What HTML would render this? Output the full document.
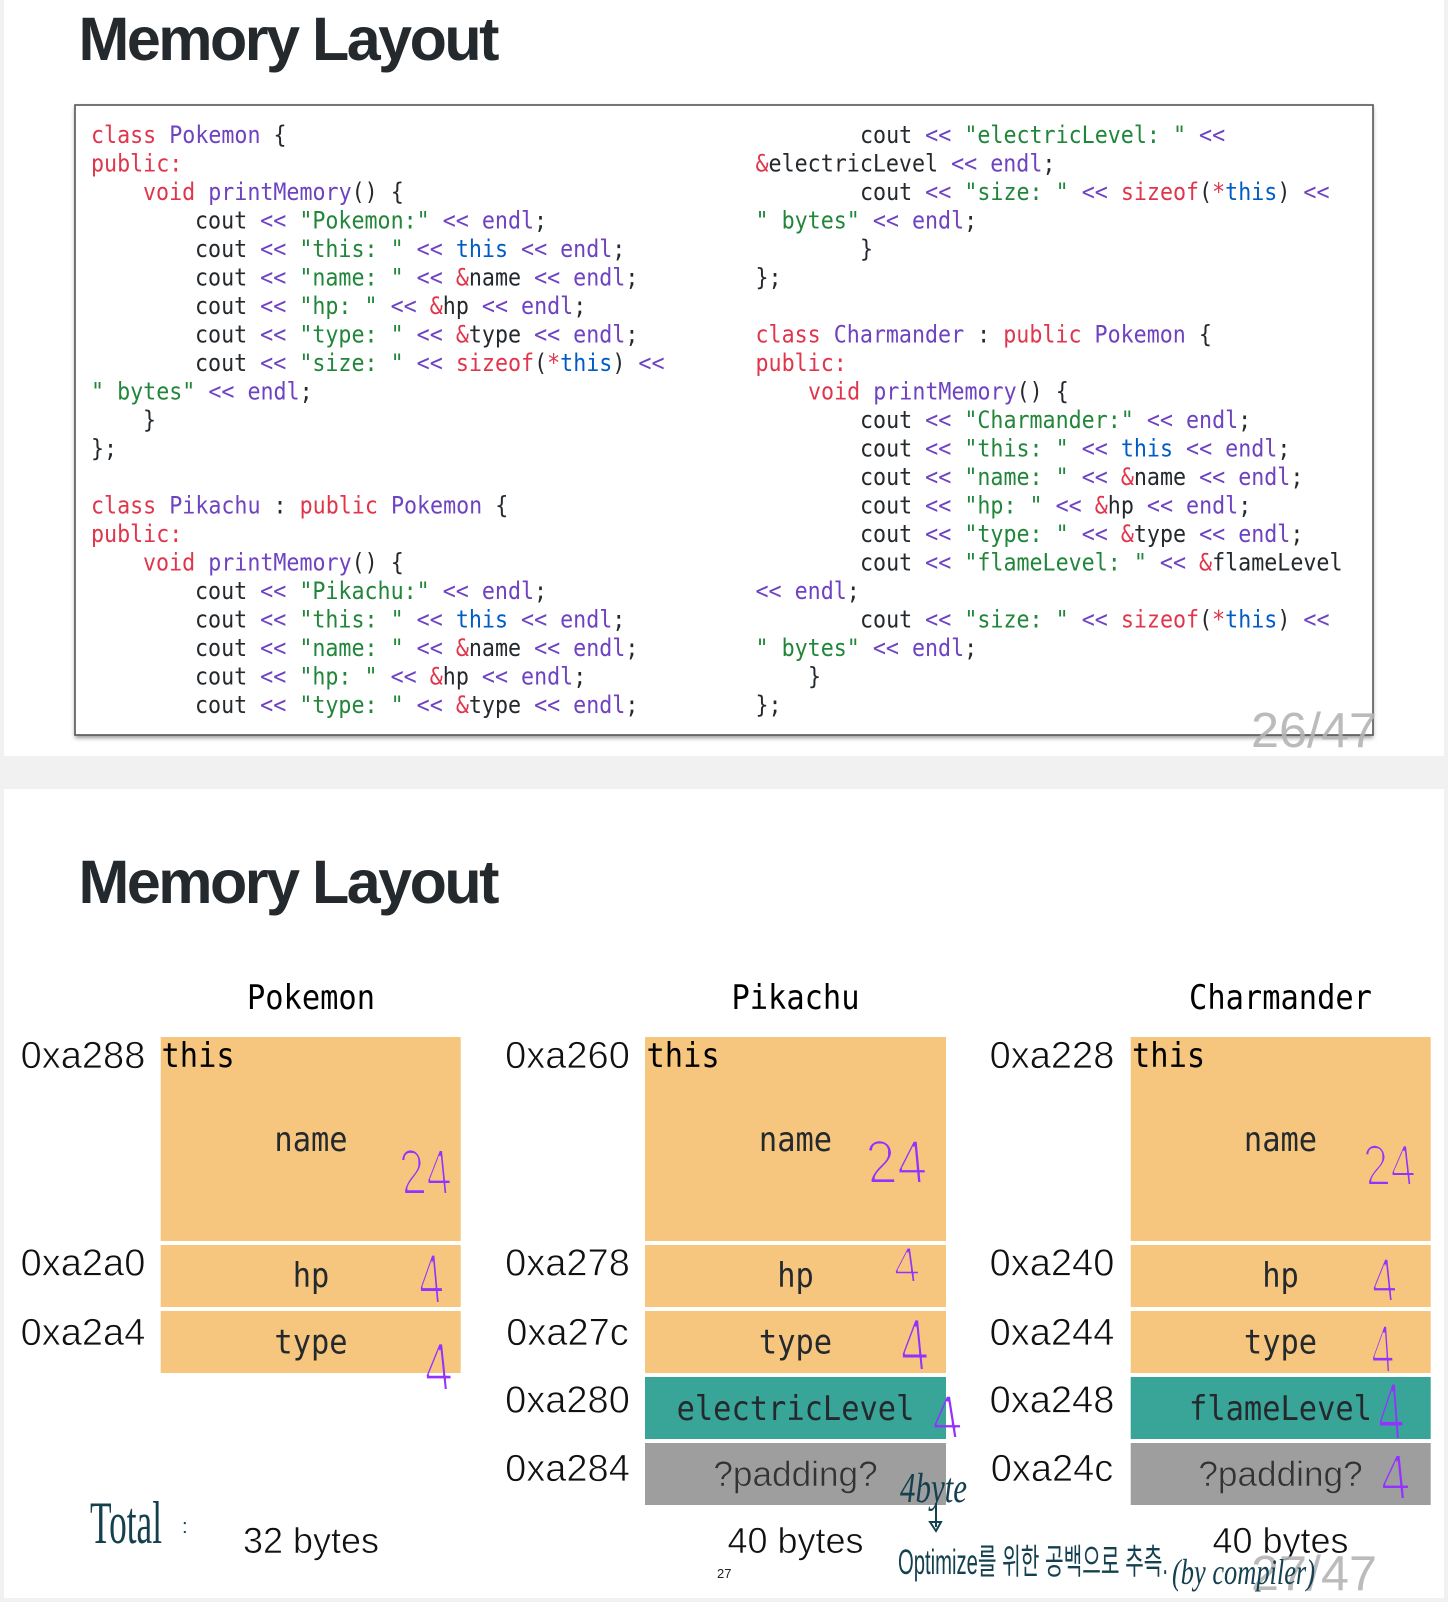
<!DOCTYPE html>
<html>
<head>
<meta charset="utf-8">
<style>
html,body{margin:0;padding:0;background:#f1f1f1}
svg{display:block}
.c text{font-family:"DejaVu Sans Mono","Liberation Mono",monospace;font-size:21.68px;white-space:pre;fill:#24292e;transform-box:fill-box;transform-origin:0 79.7%;transform:scaleY(1.1)}
.r,.c .r{fill:#e0364c}.v{fill:#6f42c1}.g{fill:#22863a}.b{fill:#005cc5}
.m{font-family:"DejaVu Sans Mono","Liberation Mono",monospace;font-size:30.4px;fill:#24292e;transform-box:fill-box;transform-origin:0 79.7%;transform:scaleY(1.1)}
.k{fill:#000}
.s{font-family:"Liberation Sans",Arial,sans-serif}
.a{font-size:38px;fill:#111;stroke:#fff;stroke-width:.7px;text-anchor:middle}
.y{font-size:36px;fill:#111;stroke:#fff;stroke-width:.6px;text-anchor:middle}
.q{font-size:35.2px;fill:#333;stroke:#9e9e9e;stroke-width:.6px;text-anchor:middle}
.t{font-size:61px;font-weight:700;fill:#24292e}
.n{font-size:49px;fill:#b4b4b4;fill-opacity:.9}
.h{font-family:"Liberation Sans",Arial,sans-serif;font-size:64px;fill:#9333ff}
.i{fill:#14404f}
</style>
</head>
<body>
<svg xmlns="http://www.w3.org/2000/svg" width="1448" height="1602" viewBox="0 0 1448 1602">
<defs>
<filter id="thin" filterUnits="userSpaceOnUse" x="0" y="0" width="1448" height="1602"><feMorphology operator="erode" radius="1"/></filter>
<filter id="sh" x="-2%" y="-2%" width="104%" height="104%"><feGaussianBlur stdDeviation="2"/></filter>
</defs>
<rect width="1448" height="1602" fill="#f1f1f1"/>
<rect x="4" y="0" width="1440" height="756" fill="#fff"/>
<rect x="4" y="789" width="1440" height="809" fill="#fff"/>

<text class="s t" x="78.5" y="60" textLength="421" lengthAdjust="spacing">Memory Layout</text>
<rect x="75" y="107" width="1298" height="631" fill="#999" filter="url(#sh)"/>
<rect x="75" y="105" width="1298" height="630" fill="#fff" stroke="#555" stroke-width="1.6"/>

<g class="c">
<text x="91" y="143"><tspan class="r">class</tspan> <tspan class="v">Pokemon</tspan> {</text>
<text x="91" y="171.5" class="r">public:</text>
<text x="143" y="200"><tspan class="r">void</tspan> <tspan class="v">printMemory</tspan>() {</text>
<text x="195" y="228.5">cout <tspan class="v">&lt;&lt;</tspan> <tspan class="g">"Pokemon:"</tspan> <tspan class="v">&lt;&lt; endl</tspan>;</text>
<text x="195" y="257">cout <tspan class="v">&lt;&lt;</tspan> <tspan class="g">"this: "</tspan> <tspan class="v">&lt;&lt;</tspan> <tspan class="b">this</tspan> <tspan class="v">&lt;&lt; endl</tspan>;</text>
<text x="195" y="285.5">cout <tspan class="v">&lt;&lt;</tspan> <tspan class="g">"name: "</tspan> <tspan class="v">&lt;&lt;</tspan> <tspan class="r">&amp;</tspan>name <tspan class="v">&lt;&lt; endl</tspan>;</text>
<text x="195" y="314">cout <tspan class="v">&lt;&lt;</tspan> <tspan class="g">"hp: "</tspan> <tspan class="v">&lt;&lt;</tspan> <tspan class="r">&amp;</tspan>hp <tspan class="v">&lt;&lt; endl</tspan>;</text>
<text x="195" y="342.5">cout <tspan class="v">&lt;&lt;</tspan> <tspan class="g">"type: "</tspan> <tspan class="v">&lt;&lt;</tspan> <tspan class="r">&amp;</tspan>type <tspan class="v">&lt;&lt; endl</tspan>;</text>
<text x="195" y="371">cout <tspan class="v">&lt;&lt;</tspan> <tspan class="g">"size: "</tspan> <tspan class="v">&lt;&lt;</tspan> <tspan class="r">sizeof</tspan>(<tspan class="r">*</tspan><tspan class="b">this</tspan>) <tspan class="v">&lt;&lt;</tspan></text>
<text x="91" y="399.5"><tspan class="g">" bytes"</tspan> <tspan class="v">&lt;&lt; endl</tspan>;</text>
<text x="143" y="428">}</text>
<text x="91" y="456.5">};</text>
<text x="91" y="513.5"><tspan class="r">class</tspan> <tspan class="v">Pikachu</tspan> : <tspan class="r">public</tspan> <tspan class="v">Pokemon</tspan> {</text>
<text x="91" y="542" class="r">public:</text>
<text x="143" y="570.5"><tspan class="r">void</tspan> <tspan class="v">printMemory</tspan>() {</text>
<text x="195" y="599">cout <tspan class="v">&lt;&lt;</tspan> <tspan class="g">"Pikachu:"</tspan> <tspan class="v">&lt;&lt; endl</tspan>;</text>
<text x="195" y="627.5">cout <tspan class="v">&lt;&lt;</tspan> <tspan class="g">"this: "</tspan> <tspan class="v">&lt;&lt;</tspan> <tspan class="b">this</tspan> <tspan class="v">&lt;&lt; endl</tspan>;</text>
<text x="195" y="656">cout <tspan class="v">&lt;&lt;</tspan> <tspan class="g">"name: "</tspan> <tspan class="v">&lt;&lt;</tspan> <tspan class="r">&amp;</tspan>name <tspan class="v">&lt;&lt; endl</tspan>;</text>
<text x="195" y="684.5">cout <tspan class="v">&lt;&lt;</tspan> <tspan class="g">"hp: "</tspan> <tspan class="v">&lt;&lt;</tspan> <tspan class="r">&amp;</tspan>hp <tspan class="v">&lt;&lt; endl</tspan>;</text>
<text x="195" y="713">cout <tspan class="v">&lt;&lt;</tspan> <tspan class="g">"type: "</tspan> <tspan class="v">&lt;&lt;</tspan> <tspan class="r">&amp;</tspan>type <tspan class="v">&lt;&lt; endl</tspan>;</text>

<text x="860" y="143">cout <tspan class="v">&lt;&lt;</tspan> <tspan class="g">"electricLevel: "</tspan> <tspan class="v">&lt;&lt;</tspan></text>
<text x="755.5" y="171.5"><tspan class="r">&amp;</tspan>electricLevel <tspan class="v">&lt;&lt; endl</tspan>;</text>
<text x="860" y="200">cout <tspan class="v">&lt;&lt;</tspan> <tspan class="g">"size: "</tspan> <tspan class="v">&lt;&lt;</tspan> <tspan class="r">sizeof</tspan>(<tspan class="r">*</tspan><tspan class="b">this</tspan>) <tspan class="v">&lt;&lt;</tspan></text>
<text x="755.5" y="228.5"><tspan class="g">" bytes"</tspan> <tspan class="v">&lt;&lt; endl</tspan>;</text>
<text x="860" y="257">}</text>
<text x="755.5" y="285.5">};</text>
<text x="755.5" y="342.5"><tspan class="r">class</tspan> <tspan class="v">Charmander</tspan> : <tspan class="r">public</tspan> <tspan class="v">Pokemon</tspan> {</text>
<text x="755.5" y="371" class="r">public:</text>
<text x="808" y="399.5"><tspan class="r">void</tspan> <tspan class="v">printMemory</tspan>() {</text>
<text x="860" y="428">cout <tspan class="v">&lt;&lt;</tspan> <tspan class="g">"Charmander:"</tspan> <tspan class="v">&lt;&lt; endl</tspan>;</text>
<text x="860" y="456.5">cout <tspan class="v">&lt;&lt;</tspan> <tspan class="g">"this: "</tspan> <tspan class="v">&lt;&lt;</tspan> <tspan class="b">this</tspan> <tspan class="v">&lt;&lt; endl</tspan>;</text>
<text x="860" y="485">cout <tspan class="v">&lt;&lt;</tspan> <tspan class="g">"name: "</tspan> <tspan class="v">&lt;&lt;</tspan> <tspan class="r">&amp;</tspan>name <tspan class="v">&lt;&lt; endl</tspan>;</text>
<text x="860" y="513.5">cout <tspan class="v">&lt;&lt;</tspan> <tspan class="g">"hp: "</tspan> <tspan class="v">&lt;&lt;</tspan> <tspan class="r">&amp;</tspan>hp <tspan class="v">&lt;&lt; endl</tspan>;</text>
<text x="860" y="542">cout <tspan class="v">&lt;&lt;</tspan> <tspan class="g">"type: "</tspan> <tspan class="v">&lt;&lt;</tspan> <tspan class="r">&amp;</tspan>type <tspan class="v">&lt;&lt; endl</tspan>;</text>
<text x="860" y="570.5">cout <tspan class="v">&lt;&lt;</tspan> <tspan class="g">"flameLevel: "</tspan> <tspan class="v">&lt;&lt;</tspan> <tspan class="r">&amp;</tspan>flameLevel</text>
<text x="755.5" y="599"><tspan class="v">&lt;&lt; endl</tspan>;</text>
<text x="860" y="627.5">cout <tspan class="v">&lt;&lt;</tspan> <tspan class="g">"size: "</tspan> <tspan class="v">&lt;&lt;</tspan> <tspan class="r">sizeof</tspan>(<tspan class="r">*</tspan><tspan class="b">this</tspan>) <tspan class="v">&lt;&lt;</tspan></text>
<text x="755.5" y="656"><tspan class="g">" bytes"</tspan> <tspan class="v">&lt;&lt; endl</tspan>;</text>
<text x="808" y="684.5">}</text>
<text x="755.5" y="713">};</text>
</g>
<text class="s n" x="1251" y="747" textLength="126" lengthAdjust="spacingAndGlyphs">26/47</text>

<text class="s t" x="78.5" y="903" textLength="421" lengthAdjust="spacing">Memory Layout</text>

<!-- boxes -->
<g fill="#f6c67e">
<rect x="160.7" y="1037" width="300" height="204"/>
<rect x="160.7" y="1245" width="300" height="62"/>
<rect x="160.7" y="1311" width="300" height="62"/>
<rect x="645" y="1037" width="301" height="204"/>
<rect x="645" y="1245" width="301" height="62"/>
<rect x="645" y="1311" width="301" height="62"/>
<rect x="1130.7" y="1037" width="300" height="204"/>
<rect x="1130.7" y="1245" width="300" height="62"/>
<rect x="1130.7" y="1311" width="300" height="62"/>
</g>
<rect x="645" y="1377" width="301" height="62" fill="#39a599"/>
<rect x="1130.7" y="1377" width="300" height="62" fill="#39a599"/>
<rect x="645" y="1443" width="301" height="62" fill="#9e9e9e"/>
<rect x="1130.7" y="1443" width="300" height="62" fill="#9e9e9e"/>

<!-- labels -->
<g text-anchor="middle">
<text class="m k" x="311" y="1009">Pokemon</text>
<text class="m k" x="795.5" y="1009">Pikachu</text>
<text class="m k" x="1280.5" y="1009">Charmander</text>
<text class="m" x="311" y="1151">name</text>
<text class="m" x="795.5" y="1151">name</text>
<text class="m" x="1280.5" y="1151">name</text>
<text class="m" x="311" y="1287">hp</text>
<text class="m" x="795.5" y="1287">hp</text>
<text class="m" x="1280.5" y="1287">hp</text>
<text class="m" x="311" y="1353.5">type</text>
<text class="m" x="795.5" y="1353.5">type</text>
<text class="m" x="1280.5" y="1353.5">type</text>
<text class="m" x="795.5" y="1420">electricLevel</text>
<text class="m" x="1280.5" y="1420">flameLevel</text>
</g>
<text class="m k" x="161.5" y="1067">this</text>
<text class="m k" x="646.5" y="1067">this</text>
<text class="m k" x="1132" y="1067">this</text>

<!-- addresses -->
<g class="s">
<text class="a" x="83" y="1068">0xa288</text>
<text class="a" x="83" y="1275.5">0xa2a0</text>
<text class="a" x="83" y="1345">0xa2a4</text>
<text class="a" x="567.5" y="1068">0xa260</text>
<text class="a" x="567.5" y="1275.5">0xa278</text>
<text class="a" x="567.5" y="1345">0xa27c</text>
<text class="a" x="567.5" y="1412.5">0xa280</text>
<text class="a" x="567.5" y="1481">0xa284</text>
<text class="a" x="1052" y="1068">0xa228</text>
<text class="a" x="1052" y="1275.5">0xa240</text>
<text class="a" x="1052" y="1345">0xa244</text>
<text class="a" x="1052" y="1412.5">0xa248</text>
<text class="a" x="1052" y="1481">0xa24c</text>
<text class="q" x="795.5" y="1486">?padding?</text>
<text class="q" x="1280.5" y="1486">?padding?</text>
<text class="y" x="311" y="1553">32 bytes</text>
<text class="y" x="795.5" y="1553">40 bytes</text>
<text class="y" x="1280.5" y="1553">40 bytes</text>
<text x="717" y="1578" font-size="13" fill="#222">27</text>
</g>
<text class="s n" x="1251" y="1590" textLength="126" lengthAdjust="spacingAndGlyphs">27/47</text>

<!-- purple handwritten sizes -->
<g filter="url(#thin)">
<text class="h" transform="translate(402,1194) scale(.72,1) skewX(8)">24</text>
<text class="h" transform="translate(420,1303) scale(.72,1.1) skewX(8)">4</text>
<text class="h" transform="translate(426,1390) scale(.8,1.06) skewX(8)">4</text>
<text class="h" transform="translate(868,1183) scale(.85,.96) skewX(6)">24</text>
<text class="h" transform="translate(895,1282) scale(.75,.78) skewX(8)">4</text>
<text class="h" transform="translate(902,1370) scale(.8,1.15) skewX(8)">4</text>
<text class="h" transform="translate(934,1438) scale(.86,.96) skewX(10)">4</text>
<text class="h" transform="translate(1366,1185) scale(.72,.9) skewX(8)">24</text>
<text class="h" transform="translate(1373,1301) scale(.72,.96) skewX(8)">4</text>
<text class="h" transform="translate(1372,1372) scale(.66,1.05) skewX(6)">4</text>
<text class="h" transform="translate(1379,1439) scale(.76,1.26) skewX(7)">4</text>
<text class="h" transform="translate(1382,1499) scale(.84,1) skewX(7)">4</text>
</g>

<!-- ink handwriting -->
<text class="i" x="90" y="1543" font-family="'Liberation Serif',serif" font-size="60" textLength="72" lengthAdjust="spacingAndGlyphs">Total</text>
<text class="i" x="182" y="1533" font-family="'Liberation Sans',sans-serif" font-size="20">:</text>
<text class="i" x="900" y="1502" font-family="'Liberation Serif',serif" font-style="italic" font-size="42" textLength="67" lengthAdjust="spacingAndGlyphs">4byte</text>
<path d="M936 1503 L936 1527 M930 1522 L936 1531 L941 1522 Z" fill="none" stroke="#14404f" stroke-width="2"/>
<text class="i" transform="translate(898,1574) scale(1,1.3)" font-family="'Liberation Sans','Noto Sans CJK KR',sans-serif" font-size="27" textLength="270" lengthAdjust="spacingAndGlyphs">Optimize를 위한 공백으로 추측.</text>
<text class="i" x="1172" y="1584" font-family="'Liberation Serif',serif" font-style="italic" font-size="36" textLength="143" lengthAdjust="spacingAndGlyphs">(by compiler)</text>
</svg>
</body>
</html>
